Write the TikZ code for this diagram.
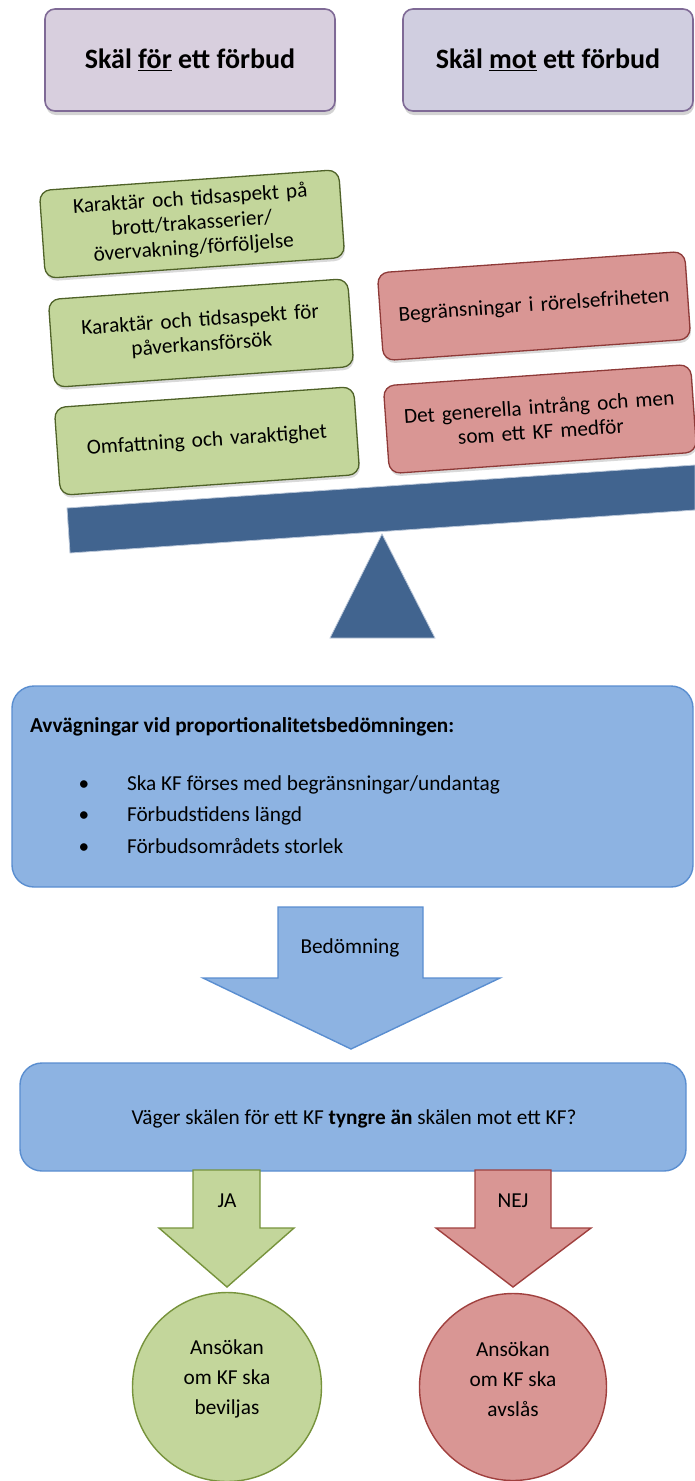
\documentclass[tikz,border=0pt]{standalone}
\usepackage{fontspec}
\setmainfont{Carlito}
\usetikzlibrary{shadows}
\definecolor{tfillA}{HTML}{D8CFDE}
\definecolor{tfillB}{HTML}{D0CEE0}
\definecolor{tborder}{HTML}{7F6A96}
\definecolor{gfill}{HTML}{C3D69B}
\definecolor{gborder}{HTML}{4F6228}
\definecolor{gborder2}{HTML}{77933C}
\definecolor{rfill}{HTML}{D99694}
\definecolor{rborder}{HTML}{8E3A38}
\definecolor{rborder2}{HTML}{A0403E}
\definecolor{beamc}{HTML}{41648F}
\definecolor{beamedge}{HTML}{B9C6D8}
\definecolor{bfill}{HTML}{8DB3E2}
\definecolor{bborder}{HTML}{5A8ED0}
\begin{document}
\begin{tikzpicture}[x=1pt,y=-1pt,
  every node/.style={inner sep=0pt, outer sep=0pt},
  body/.style={font=\fontsize{21.3}{24}\selectfont},
  titlebox/.style={draw=tborder, line width=1.6pt, rounded corners=10pt,
    minimum width=290pt, minimum height=102pt,
    font=\fontsize{28}{30}\selectfont\bfseries,
    drop shadow={opacity=0.35, shadow xshift=1pt, shadow yshift=-4pt}},
  gbox/.style={draw=gborder, fill=gfill, line width=1.3pt, rounded corners=11pt,
    rotate=4, minimum width=300pt, minimum height=88pt, align=center, text width=285pt,
    font=\fontsize{21.3}{24.5}\selectfont,
    drop shadow={opacity=0.3, shadow xshift=1pt, shadow yshift=-3pt}},
  rbox/.style={gbox, draw=rborder, fill=rfill, minimum width=308pt},
  bluebox/.style={draw=bborder, fill=bfill, line width=1.4pt, rounded corners=22pt},
  blockarrow/.style={line width=1.4pt, line join=miter},
  outcome/.style={circle, line width=1.4pt},
  outcometext/.style={align=center, font=\fontsize{21.3}{30}\selectfont},
]
\useasboundingbox (0,0) rectangle (695,1481);

% title boxes
\node[titlebox, fill=tfillA] (pro) at (190,60) {Skäl \underline{för} ett förbud};
\node[titlebox, fill=tfillB] (con) at (548,60) {Skäl \underline{mot} ett förbud};

% beam and fulcrum
\fill[beamc, draw=beamedge, line width=0.8pt] (67,508) -- (695,465) -- (695,510) -- (70,553) -- cycle;
\fill[beamc, draw=beamedge, line width=0.8pt] (382,534) -- (435,638) -- (330,638) -- cycle;

% reasons for
\node[gbox] (g1) at (192,224) {Karaktär och tidsaspekt på\\brott/trakasserier/\\övervakning/förföljelse};
\node[gbox] (g2) at (201,333) {Karaktär och tidsaspekt för\\påverkansförsök};
\node[gbox] (g3) at (207,441) {Omfattning och varaktighet};

% reasons against
\node[rbox] (r1) at (534,306) {Begränsningar i rörelsefriheten};
\node[rbox] (r2) at (540,419) {Det generella intrång och men\\som ett KF medför};

% proportionality box
\node[bluebox, minimum width=681pt, minimum height=201pt] (prop) at (352.5,786.5) {};
\node[anchor=base west, font=\fontsize{21.3}{24}\selectfont\bfseries] (propt) at (30,732) {Avvägningar vid proportionalitetsbedömningen:};
\node[body, anchor=base] (b1) at (84,790) {\textbullet};
\node[body, anchor=base] (b2) at (84,821) {\textbullet};
\node[body, anchor=base] (b3) at (84,853) {\textbullet};
\node[body, anchor=base west] (l1) at (127,790) {Ska KF förses med begränsningar/undantag};
\node[body, anchor=base west] (l2) at (127,821) {Förbudstidens längd};
\node[body, anchor=base west] (l3) at (127,853) {Förbudsområdets storlek};

% Bedömning arrow
\draw[blockarrow, draw=bborder, fill=bfill] (278,907) -- (423,907) -- (423,978) -- (500,978)
  -- (351,1049) -- (203,978) -- (278,978) -- cycle;
\node[body, anchor=base] (bed) at (350,953) {Bedömning};

% question box
\node[bluebox, minimum width=666pt, minimum height=108pt] (q) at (353,1117) {};
\node[body, anchor=base] (qt) at (354,1124) {Väger skälen för ett KF \textbf{tyngre än} skälen mot ett KF?};

% JA arrow
\draw[blockarrow, draw=gborder2, fill=gfill] (193,1170) -- (260,1170) -- (260,1228) -- (294,1228)
  -- (227,1287) -- (159,1228) -- (193,1228) -- cycle;
\node[body, anchor=base] (ja) at (227,1207) {JA};

% NEJ arrow
\draw[blockarrow, draw=rborder2, fill=rfill] (475,1170) -- (551,1170) -- (551,1228) -- (591,1228)
  -- (513,1287) -- (436,1228) -- (475,1228) -- cycle;
\node[body, anchor=base] (nej) at (513,1207) {NEJ};

% outcome circles
\node[outcome, draw=gborder2, fill=gfill, minimum size=189pt] (yes) at (227,1387) {};
\node[outcometext] (yest) at (227,1379) {Ansökan\\om KF ska\\beviljas};
\node[outcome, draw=rborder2, fill=rfill, minimum size=187pt] (no) at (513,1387) {};
\node[outcometext] (not) at (513,1379) {Ansökan\\om KF ska\\avslås};
\end{tikzpicture}
\end{document}
